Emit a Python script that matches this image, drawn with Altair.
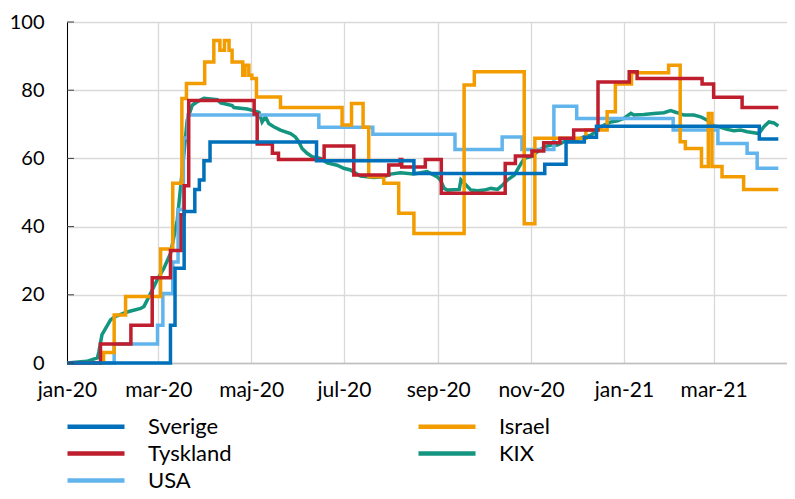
import altair as alt
import pandas as pd

# ---- values (day offsets from 2020-01-01, index values) ----
sverige_day = [0, 68, 71, 77, 84, 87, 90, 94, 164, 228, 314, 328, 340, 348, 455, 467.5]
sverige_val = [0, 11.1, 27.8, 44.4, 50.9, 53.7, 59.3, 64.8, 59.3, 55.6, 58.3, 64.8, 66.2, 69.4, 65.7, 65.7]

tyskland_day = [0, 22, 42, 56, 68, 75, 77, 80, 123, 125, 135, 139, 169, 188.5, 211.5, 219, 220,
                235.5, 246, 288, 294.7, 305.6, 313.3, 324, 333, 349, 369.5, 374.7, 417.4, 425, 443.7, 467.5]
tyskland_val = [0, 5.6, 11.1, 25.0, 33.0, 43.5, 52.0, 77.0, 73.0, 64.2, 61.5, 59.7, 63.6, 55.1, 58.1, 59.7, 57.5,
                59.7, 49.8, 58.5, 60.7, 62.2, 64.6, 65.9, 68.3, 82.4, 85.4, 83.4, 81.8, 77.9, 74.9, 74.9]

usa_day = [0, 31, 59.5, 63, 69.5, 73, 76.5, 79.5, 165.5, 201, 255, 286, 299, 320, 335, 398.4, 427.8, 447, 453.6, 467.5]
usa_val = [0, 5.6, 11.1, 20.4, 29.6, 45.0, 66.0, 72.7, 69.1, 67.1, 62.6, 66.3, 62.6, 75.3, 71.7, 68.3, 64.4, 61.5, 57.1, 57.1]

israel_day = [0, 24, 31, 38.5, 61.5, 69.5, 75.5, 78.5, 90.5, 96.5, 100.5, 103.5, 106.5, 108.5, 115.5, 117, 119.5,
              121.5, 124.5, 140.3, 180.8, 187, 194.6, 198.3, 208.2, 218, 228, 261, 267.7, 300.5, 307.5, 341,
              355, 360.4, 371, 395.4, 403, 406.4, 417, 421.5, 423.9, 430.5, 444.7, 467.5]
israel_val = [0, 3.1, 14.1, 19.5, 33.4, 52.7, 77.6, 82.0, 88.3, 94.6, 91.7, 94.6, 91.7, 88.3, 84.4, 87.3, 84.4,
              83.4, 78.0, 74.9, 69.8, 76.1, 69.1, 54.6, 52.7, 43.9, 38.0, 81.5, 85.4, 40.8, 65.9, 68.3,
              73.7, 81.8, 85.1, 87.3, 64.9, 62.9, 57.6, 73.2, 57.6, 54.6, 50.9, 50.9]

kix_day = [0, 13, 20, 21, 23, 28.7, 32, 37.4, 40.7, 48.4, 50.6, 52.8, 56.1, 59.3, 63.7, 68.1, 72.5, 75.8, 79,
           82.3, 85.6, 90, 98.8, 101, 108.6, 109.7, 118.5, 121.8, 126.2, 127.1, 128.2, 130.4, 132.6, 135.9,
           140.3, 146.9, 150.1, 152.3, 154.5, 157.8, 161.1, 166.6, 171, 177.5, 181.9, 186.3, 192.9, 201.6,
           208.2, 212.6, 219.1, 227.9, 236.7, 243.2, 245.4, 247.9, 250.1, 257.8, 258.9, 261.1, 265.5, 269.9,
           274.2, 278.6, 283, 286.3, 289.6, 294, 297.2, 300.5, 304.9, 309.3, 313.7, 318, 322.4, 326.8, 331.2,
           335.6, 340, 344.3, 348.7, 353.1, 357.5, 361.9, 366.2, 370.6, 372.6, 379.1, 385.7, 392.3, 396.7,
           401, 405.4, 412, 416.4, 420.8, 425.2, 429.5, 433.9, 438.3, 442.7, 447.1, 451.4, 454.7, 458, 461.3,
           464.6, 467.5]
kix_val = [0, 0.5, 1.5, 3.4, 8.3, 12.7, 13.7, 14.6, 15.1, 16.0, 16.6, 18.5, 21.5, 24.4, 27.8, 32.2, 42.0, 56.6,
           71.2, 75.6, 76.6, 77.6, 77.2, 76.3, 75.5, 74.9, 74.5, 74.1, 73.5, 72.2, 70.7, 72.2, 70.2, 69.3,
           68.3, 67.3, 66.3, 64.9, 62.9, 61.5, 60.5, 60.0, 58.7, 58.0, 57.1, 56.6, 54.8, 54.4,
           54.6, 55.4, 55.8, 55.4, 56.1, 54.6, 53.7, 51.2, 50.7, 50.9, 53.7, 52.7, 50.7, 50.5,
           50.7, 51.2, 50.9, 52.2, 53.7, 55.1, 57.6, 60.0, 60.5, 62.0, 63.4, 63.9, 63.9, 64.9, 65.4,
           65.6, 66.3, 66.8, 68.3, 69.8, 70.7, 71.0, 71.8, 73.2, 72.7, 72.9, 73.2, 73.4, 74.0,
           73.4, 72.7, 72.7, 72.2, 71.2, 69.5, 69.1, 68.5, 68.1, 68.3, 67.8, 67.5, 67.3, 69.3, 70.7,
           70.4, 69.5]

series_names = ["Sverige", "Tyskland", "USA", "Israel", "KIX"]  # legend order (column-major, 2 columns)
colors = {"Sverige": "#0070BA", "Tyskland": "#BE1E2D", "USA": "#62B5EC",
          "Israel": "#F39C00", "KIX": "#149580"}
draw_order = ["KIX", "USA", "Israel", "Tyskland", "Sverige"]  # bottom -> top

tick_dates = ["2020-01-01", "2020-03-01", "2020-05-01", "2020-07-01",
              "2020-09-01", "2020-11-01", "2021-01-01", "2021-03-01"]
tick_labels = ["jan-20", "mar-20", "maj-20", "jul-20", "sep-20", "nov-20", "jan-21", "mar-21"]
y_ticks = [0, 20, 40, 60, 80, 100]

# ---- build table ----
start = pd.Timestamp("2020-01-01")
raw = {"Sverige": (sverige_day, sverige_val), "Tyskland": (tyskland_day, tyskland_val),
       "USA": (usa_day, usa_val), "Israel": (israel_day, israel_val), "KIX": (kix_day, kix_val)}
rows = []
for name, (days, vals) in raw.items():
    for d, v in zip(days, vals):
        t = start + pd.to_timedelta(d, unit="D")
        rows.append({"series": name, "date": t.strftime("%Y-%m-%dT%H:%M:%SZ"), "value": v})
df = pd.DataFrame(rows)


def dt(s, hours=0):
    y, m, d = (int(p) for p in s.split("-"))
    return alt.DateTime(year=y, month=m, date=d, hours=hours, utc=True)


keys_js = "[" + ",".join(f"'{k}'" for k in tick_dates) + "]"
labs_js = "[" + ",".join(f"'{k}'" for k in tick_labels) + "]"
label_expr = f"{labs_js}[indexof({keys_js}, utcFormat(datum.value, '%Y-%m-%d'))]"

FONT = "Lato"

x_enc = alt.X("date:T",
              scale=alt.Scale(type="utc", domain=[dt("2020-01-01"), dt("2021-04-18", 5)]),
              axis=alt.Axis(values=[dt(s) for s in tick_dates], labelExpr=label_expr,
                            title=None, grid=True, gridColor="#D9D9D9", gridWidth=1.3,
                            ticks=False, domainColor="#BFBFBF", domainWidth=1.3,
                            labelFont=FONT, labelFontSize=21, labelColor="#000000",
                            labelPadding=16, labelAngle=0, labelOverlap=False, labelFlush=False))
y_enc = alt.Y("value:Q",
              scale=alt.Scale(domain=[0, 100], nice=False),
              axis=alt.Axis(values=y_ticks, title=None, grid=True, gridColor="#D9D9D9", gridWidth=1.3,
                            ticks=False, domainColor="#000000", domainWidth=1,
                            labelFont=FONT, labelFontSize=20, labelColor="#000000",
                            labelPadding=23))
color_enc = alt.Color("series:N",
                      scale=alt.Scale(domain=series_names, range=[colors[s] for s in series_names]),
                      legend=alt.Legend(orient="none", legendX=-2, legendY=394, columns=2,
                                        title=None, symbolType="stroke", symbolSize=3249,
                                        symbolStrokeWidth=4.5, labelFont=FONT, labelFontSize=22,
                                        labelColor="#000000", labelOffset=21, columnPadding=184,
                                        rowPadding=4, clipHeight=21, padding=0))

layers = []
for name in draw_order:
    layers.append(
        alt.Chart(df).transform_filter(alt.datum.series == name)
        .mark_line(interpolate="linear" if name == "KIX" else "step-after", strokeWidth=3.5)
        .encode(x=x_enc, y=y_enc, color=color_enc)
    )

tick_df = pd.DataFrame({"v": y_ticks})
ticks = alt.Chart(tick_df).mark_rule(color="#404040", strokeWidth=1).encode(
    y=alt.Y("v:Q"), x=alt.value(0), x2=alt.value(7))

chart = alt.layer(*layers, ticks).properties(
    width=720, height=341,
    autosize=alt.AutoSizeParams(type="none"),
    padding={"left": 59, "top": 14, "right": 0, "bottom": 128},
).configure_view(stroke=None).configure(background="white")

chart.save("out.html", embed_options={"renderer": "svg", "actions": False})
